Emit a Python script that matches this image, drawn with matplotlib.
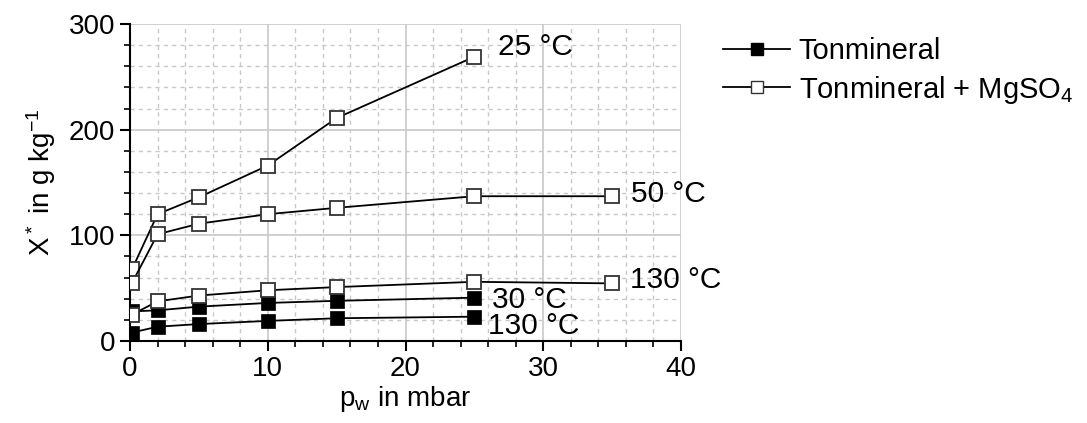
import matplotlib.pyplot as plt
from matplotlib.ticker import MultipleLocator
from matplotlib.lines import Line2D

plt.rcParams['font.family'] = ['Liberation Sans', 'DejaVu Sans']
plt.rcParams['mathtext.default'] = 'regular'

# Tonmineral (filled squares)
p_ton = [0.15, 2, 5, 10, 15, 25]
ton_30 = [28, 29, 32.5, 36, 38, 41]
ton_130 = [8, 13.5, 16, 19, 21.5, 23]

# Tonmineral + MgSO4 (open squares)
p_mg25 = [0.15, 2, 5, 10, 15, 25]
mg_25 = [68, 120, 136, 166, 211, 269]
p_mg = [0.15, 2, 5, 10, 15, 25, 35]
mg_50 = [55, 101, 111, 120, 126, 137, 137]
mg_130 = [25, 37.5, 43, 48, 51, 56, 54.5]

labels = [("25 °C", 26.7, 278), ("50 °C", 36.4, 139), ("130 °C", 36.3, 57.5),
          ("30 °C", 26.3, 38.5), ("130 °C", 26.0, 14)]

fig = plt.figure(figsize=(10.87, 4.23), dpi=100)
ax = fig.add_axes([0.1196, 0.1939, 0.5069, 0.7494])

for y in [ton_30, ton_130]:
    ax.plot(p_ton, y, color="black", lw=1.3, marker="s", ms=10, mew=0.5,
            mfc="black", mec="black", zorder=3)
ax.plot(p_mg25, mg_25, color="black", lw=1.3, marker="s", ms=10.5,
        mfc="white", mec="#333333", mew=1.3, zorder=4)
for y in [mg_50, mg_130]:
    ax.plot(p_mg, y, color="black", lw=1.3, marker="s", ms=10.5,
            mfc="white", mec="#333333", mew=1.3, zorder=4)

for txt, x, y in labels:
    ax.text(x, y, txt, fontsize=21.5, va="center", ha="left", clip_on=False)

ax.set_xlim(0, 40)
ax.set_ylim(0, 300)
ax.xaxis.set_major_locator(MultipleLocator(10))
ax.xaxis.set_minor_locator(MultipleLocator(2))
ax.yaxis.set_major_locator(MultipleLocator(100))
ax.yaxis.set_minor_locator(MultipleLocator(20))
ax.grid(which="major", color="#c8c8c8", lw=1.2, ls="-")
ax.grid(which="minor", color="#c8c8c8", lw=1, ls=(0, (3, 3)))
ax.set_axisbelow(True)
for s in ["top", "right"]:
    ax.spines[s].set_visible(False)
ax.spines["left"].set_linewidth(1.5)
ax.spines["bottom"].set_linewidth(1.5)
ax.tick_params(which="major", length=7, width=1.5, labelsize=20, direction="out")
ax.tick_params(which="minor", length=4, width=1.2, direction="out")

ax.set_xlabel("p$_w$ in mbar", fontsize=20, labelpad=2)
ax.set_ylabel("X$^*$ in g kg$^{-1}$", fontsize=20, labelpad=8)

handles = [
    Line2D([], [], color="black", lw=1.3, marker="s", ms=8, mfc="black", mec="black"),
    Line2D([], [], color="black", lw=1.3, marker="s", ms=8, mfc="white", mec="#333333"),
]
fig.legend(handles, ["Tonmineral", "Tonmineral + MgSO$_4$"], loc="upper left",
           bbox_to_anchor=(0.641, 0.975), frameon=False, fontsize=21,
           handlelength=2.3, handletextpad=0.3, labelspacing=0.3)

fig.savefig("out.png", dpi=100)
